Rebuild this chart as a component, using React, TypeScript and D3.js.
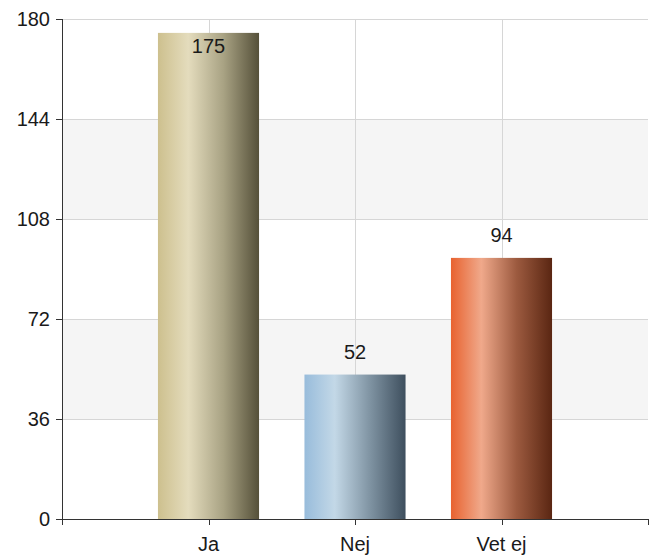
import React, { useRef, useEffect } from 'react';
import * as d3 from 'd3';

const categories = ['Ja', 'Nej', 'Vet ej'];
const values = [175, 52, 94];
const yTicks = [0, 36, 72, 108, 144, 180];
const bands: [number, number][] = [[36, 72], [108, 144]];
const gradients = [
  ['#cdc08e', '#e4dcbd', '#a8a283', '#555039'],
  ['#98bcdb', '#c3d8e7', '#7f93a2', '#3e4f5e'],
  ['#e8622f', '#f0a98b', '#9c5a3f', '#5a2612'],
];

const App: React.FC = () => {
  const svgRef = useRef<SVGSVGElement | null>(null);

  useEffect(() => {
    const width = 654;
    const height = 555;
    const margin = { top: 19, right: 6, bottom: 36, left: 62 };
    const font = 'Arial, "Liberation Sans", sans-serif';

    d3.select(svgRef.current).selectAll('*').remove();
    const svg = d3.select(svgRef.current).attr('width', width).attr('height', height);

    const x = d3.scaleLinear().domain([0, 4]).range([margin.left, width - margin.right]);
    const y = d3.scaleLinear().domain([0, 180]).range([height - margin.bottom, margin.top]);
    const barW = (x(1) - x(0)) * 0.69;

    const defs = svg.append('defs');
    gradients.forEach((g, i) => {
      const lg = defs.append('linearGradient').attr('id', `grad${i}`).attr('x1', 0).attr('x2', 1).attr('y1', 0).attr('y2', 0);
      lg.append('stop').attr('offset', '0%').attr('stop-color', g[0]);
      lg.append('stop').attr('offset', '30%').attr('stop-color', g[1]);
      lg.append('stop').attr('offset', '65%').attr('stop-color', g[2]);
      lg.append('stop').attr('offset', '100%').attr('stop-color', g[3]);
    });

    // alternating bands
    svg.selectAll('rect.band')
      .data(bands)
      .enter()
      .append('rect')
      .attr('x', x(0))
      .attr('width', x(4) - x(0))
      .attr('y', (d) => y(d[1]))
      .attr('height', (d) => y(d[0]) - y(d[1]))
      .attr('fill', '#f5f5f5');

    // grid
    svg.selectAll('line.hgrid')
      .data(yTicks.filter((t) => t > 0))
      .enter()
      .append('line')
      .attr('x1', x(0))
      .attr('x2', x(4))
      .attr('y1', (d) => y(d) + 0.5)
      .attr('y2', (d) => y(d) + 0.5)
      .attr('stroke', '#d6d6d6');

    svg.selectAll('line.vgrid')
      .data([1, 2, 3])
      .enter()
      .append('line')
      .attr('x1', (d) => Math.round(x(d)) + 0.5)
      .attr('x2', (d) => Math.round(x(d)) + 0.5)
      .attr('y1', y(180))
      .attr('y2', y(0))
      .attr('stroke', '#d6d6d6');

    // bars
    svg.selectAll('rect.bar')
      .data(values)
      .enter()
      .append('rect')
      .attr('x', (d, i) => x(i + 1) - barW / 2)
      .attr('width', barW)
      .attr('y', (d) => y(d))
      .attr('height', (d) => y(0) - y(d))
      .attr('fill', (d, i) => `url(#grad${i})`);

    // value labels
    svg.selectAll('text.val')
      .data(values)
      .enter()
      .append('text')
      .attr('x', (d, i) => x(i + 1))
      .attr('y', (d) => (y(d) - 16 < margin.top ? y(d) + 20 : y(d) - 16))
      .attr('text-anchor', 'middle')
      .style('font-family', font)
      .style('font-size', '20px')
      .attr('fill', '#1a1a1a')
      .text((d) => d);

    // axes
    const axisColor = '#333';
    svg.append('line')
      .attr('x1', x(0) + 0.5).attr('x2', x(0) + 0.5)
      .attr('y1', y(180)).attr('y2', y(0) + 6)
      .attr('stroke', axisColor);
    svg.append('line')
      .attr('x1', x(0)).attr('x2', x(4))
      .attr('y1', y(0) + 0.5).attr('y2', y(0) + 0.5)
      .attr('stroke', axisColor);

    svg.selectAll('line.ytick')
      .data(yTicks)
      .enter()
      .append('line')
      .attr('x1', x(0) - 6).attr('x2', x(0))
      .attr('y1', (d) => y(d) + 0.5).attr('y2', (d) => y(d) + 0.5)
      .attr('stroke', axisColor);

    svg.selectAll('text.ytick')
      .data(yTicks)
      .enter()
      .append('text')
      .attr('x', x(0) - 12)
      .attr('y', (d) => y(d) + 7)
      .attr('text-anchor', 'end')
      .style('font-family', font)
      .style('font-size', '20px')
      .attr('fill', '#1a1a1a')
      .text((d) => d);

    svg.selectAll('line.xtick')
      .data([1, 2, 3, 4])
      .enter()
      .append('line')
      .attr('x1', (d) => Math.round(x(d)) + 0.5).attr('x2', (d) => Math.round(x(d)) + 0.5)
      .attr('y1', y(0)).attr('y2', y(0) + 6)
      .attr('stroke', axisColor);

    svg.selectAll('text.xlab')
      .data(categories)
      .enter()
      .append('text')
      .attr('x', (d, i) => x(i + 1))
      .attr('y', y(0) + 32)
      .attr('text-anchor', 'middle')
      .style('font-family', font)
      .style('font-size', '20px')
      .attr('fill', '#1a1a1a')
      .text((d) => d);
  }, []);

  return <svg ref={svgRef} style={{ position: 'absolute', left: 0, top: 0 }}></svg>;
};

export default App;
